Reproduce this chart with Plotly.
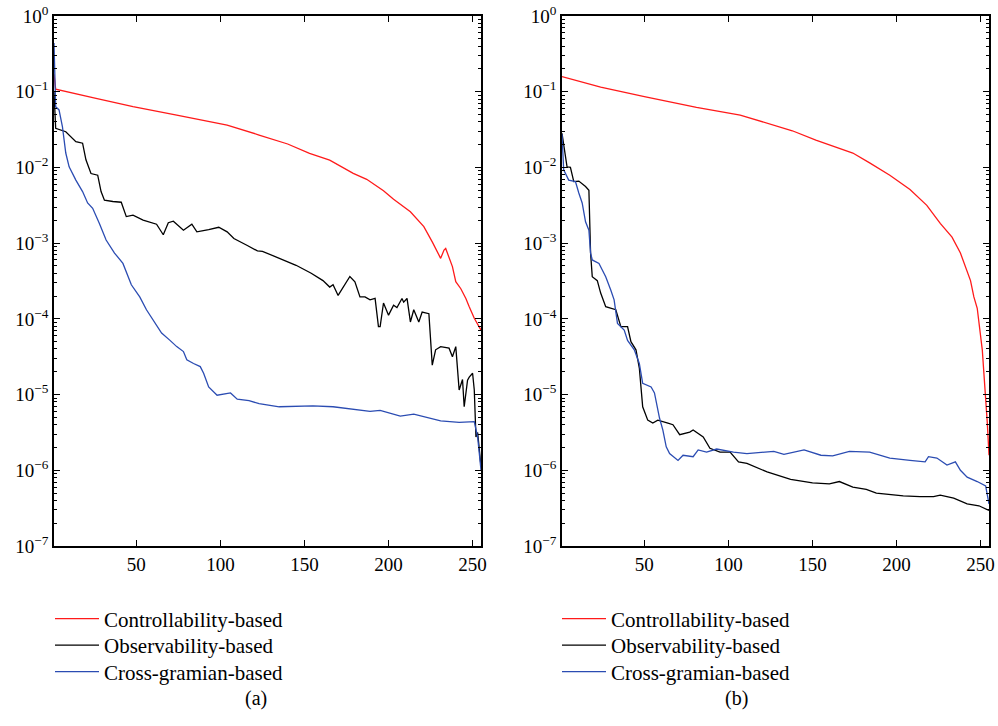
import plotly.graph_objects as go

# ---------------- data ----------------
SERIES_NAMES = ["Controllability-based", "Observability-based", "Cross-gramian-based"]

# panel (a)
A_ctrl_x = [1, 2, 26, 48, 74, 104, 123, 131, 140, 153, 165, 179, 187, 197, 203, 213, 221, 226, 231, 233, 234, 238, 240, 243, 246, 248, 251, 255]
A_ctrl_y = [0.17, 0.108, 0.0818, 0.0634, 0.0492, 0.0363, 0.0268, 0.0235, 0.0204, 0.0153, 0.0125, 8.36e-3, 6.97e-3, 4.92e-3, 3.79e-3, 2.60e-3, 1.65e-3, 1.04e-3, 6.3e-4, 8.1e-4, 8.5e-4, 4.9e-4, 3.1e-4, 2.5e-4, 1.86e-4, 1.45e-4, 1.02e-4, 7.1e-5]

A_obs_x = [1, 2, 8, 14, 18, 20, 23, 27, 29, 31, 36, 41, 44, 48, 54, 62, 66, 69, 72, 78, 83, 86, 93, 99, 104, 108, 116, 122, 125, 137, 145, 154, 161, 165, 167, 170, 173, 177, 180, 183, 186, 189, 192, 194, 195, 197, 200, 203, 205, 208, 209, 211, 213, 215, 218, 220, 224, 225, 226, 228, 231, 236, 238, 240, 242, 244, 245, 247, 248, 250, 251, 252, 253, 255]
A_obs_y = [0.1, 0.0328, 0.0296, 0.0219, 0.0209, 0.0126, 8.3e-3, 7.9e-3, 4.8e-3, 3.7e-3, 3.55e-3, 3.47e-3, 2.24e-3, 2.34e-3, 2.02e-3, 1.78e-3, 1.29e-3, 1.86e-3, 1.95e-3, 1.48e-3, 1.78e-3, 1.41e-3, 1.51e-3, 1.62e-3, 1.41e-3, 1.15e-3, 9.3e-4, 7.9e-4, 7.8e-4, 6.0e-4, 5.1e-4, 4.0e-4, 3.2e-4, 2.63e-4, 2.82e-4, 2.04e-4, 2.63e-4, 3.63e-4, 3.09e-4, 1.95e-4, 1.95e-4, 1.78e-4, 1.86e-4, 7.9e-5, 7.9e-5, 1.62e-4, 1.12e-4, 1.51e-4, 1.41e-4, 1.86e-4, 1.66e-4, 1.86e-4, 9.1e-5, 1.32e-4, 9.1e-5, 1.23e-4, 1.17e-4, 4.5e-5, 2.45e-5, 3.9e-5, 4.3e-5, 4.1e-5, 3.16e-5, 4.3e-5, 1.15e-5, 1.58e-5, 6.9e-6, 1.55e-5, 1.70e-5, 1.91e-5, 1.15e-5, 2.75e-6, 3.16e-6, 1.12e-6]

A_cross_x = [1, 2, 4, 6, 8, 10, 14, 18, 21, 24, 28, 32, 37, 42, 47, 52, 56, 61, 65, 70, 74, 78, 80, 84, 88, 90, 93, 98, 106, 110, 117, 123, 135, 155, 167, 189, 195, 207, 215, 231, 242, 251, 253, 255]
A_cross_y = [0.44, 0.0634, 0.0575, 0.0347, 0.0155, 0.0102, 6.8e-3, 4.8e-3, 3.39e-3, 2.88e-3, 1.82e-3, 1.10e-3, 7.4e-4, 5.4e-4, 2.82e-4, 1.95e-4, 1.32e-4, 9.1e-5, 6.5e-5, 5.2e-5, 4.3e-5, 3.7e-5, 2.88e-5, 2.57e-5, 2.34e-5, 1.91e-5, 1.26e-5, 9.8e-6, 1.05e-5, 8.7e-6, 8.3e-6, 7.6e-6, 6.9e-6, 7.1e-6, 6.9e-6, 6.0e-6, 6.2e-6, 5.2e-6, 5.5e-6, 4.5e-6, 4.3e-6, 4.4e-6, 2.75e-6, 1.0e-6]

# panel (b)
B_ctrl_x = [1, 24, 50, 81, 107, 127, 138, 152, 164, 174, 184, 196, 208, 218, 226, 233, 238, 244, 246, 248, 251, 253, 254, 255]
B_ctrl_y = [0.158, 0.115, 0.0859, 0.0622, 0.0492, 0.0363, 0.0305, 0.0230, 0.0186, 0.0155, 0.0115, 7.9e-3, 5.1e-3, 3.16e-3, 1.82e-3, 1.20e-3, 7.4e-4, 3.2e-4, 1.95e-4, 1.38e-4, 3.9e-5, 1.05e-5, 4.2e-6, 1.58e-6]

B_obs_x = [1, 3, 4, 6, 8, 11, 15, 17, 18, 19, 22, 24, 27, 33, 36, 40, 42, 45, 47, 49, 52, 55, 58, 64, 67, 71, 77, 79, 85, 89, 95, 101, 106, 111, 115, 123, 137, 150, 160, 166, 174, 182, 188, 196, 204, 214, 222, 226, 234, 242, 249, 255]
B_obs_y = [0.0282, 0.0155, 0.0102, 0.0100, 6.5e-3, 6.6e-3, 5.6e-3, 5.0e-3, 7.4e-4, 3.6e-4, 3.2e-4, 2.19e-4, 1.45e-4, 1.32e-4, 7.9e-5, 7.9e-5, 5.0e-5, 3.9e-5, 2.24e-5, 6.9e-6, 4.6e-6, 4.2e-6, 4.6e-6, 4.2e-6, 4.0e-6, 2.95e-6, 3.2e-6, 3.4e-6, 2.75e-6, 1.95e-6, 1.74e-6, 1.74e-6, 1.29e-6, 1.23e-6, 1.12e-6, 9.5e-7, 7.6e-7, 6.8e-7, 6.6e-7, 7.1e-7, 6.0e-7, 5.6e-7, 5.0e-7, 4.8e-7, 4.6e-7, 4.5e-7, 4.5e-7, 4.7e-7, 4.3e-7, 3.6e-7, 3.4e-7, 2.95e-7]

B_cross_x = [1, 2, 5, 9, 11, 13, 15, 17, 18, 19, 23, 27, 30, 32, 34, 38, 40, 44, 47, 49, 54, 56, 59, 61, 63, 65, 70, 73, 79, 82, 87, 93, 103, 111, 127, 133, 145, 155, 162, 172, 184, 196, 208, 217, 219, 224, 230, 235, 238, 242, 248, 253, 255]
B_cross_y = [0.0275, 9.3e-3, 6.8e-3, 6.5e-3, 4.6e-3, 3.39e-3, 1.91e-3, 1.48e-3, 7.4e-4, 6.0e-4, 5.4e-4, 3.6e-4, 2.4e-4, 1.78e-4, 8.7e-5, 7.1e-5, 5.2e-5, 3.9e-5, 2.57e-5, 1.41e-5, 1.26e-5, 1.05e-5, 4.9e-6, 3.4e-6, 2.04e-6, 1.66e-6, 1.35e-6, 1.58e-6, 1.51e-6, 1.86e-6, 1.74e-6, 1.91e-6, 1.74e-6, 1.66e-6, 1.78e-6, 1.62e-6, 1.86e-6, 1.58e-6, 1.55e-6, 1.78e-6, 1.74e-6, 1.45e-6, 1.35e-6, 1.29e-6, 1.51e-6, 1.45e-6, 1.17e-6, 1.29e-6, 1.0e-6, 8.1e-7, 7.1e-7, 6.2e-7, 3.6e-7]

X_TICKS = [50, 100, 150, 200, 250]
Y_TICKS = [1e-7, 1e-6, 1e-5, 1e-4, 1e-3, 1e-2, 1e-1, 1]
Y_TICK_LABELS = ["10<sup>−7</sup>", "10<sup>−6</sup>", "10<sup>−5</sup>", "10<sup>−4</sup>",
                 "10<sup>−3</sup>", "10<sup>−2</sup>", "10<sup>−1</sup>", "10<sup>0</sup>"]
CAPTIONS = ["(a)", "(b)"]

# ---------------- style / layout ----------------
FONT = "Liberation Serif"
COLORS = ["#ff1a1a", "#000000", "#2b4cb2"]
W, H = 998, 726

minor_vals = [m * 10.0 ** e for e in range(-7, 0) for m in range(2, 10)]

fig = go.Figure()

LEGEND_ROWS = [619, 645.5, 672]          # pixel rows of the legend entries
LEGEND_X = [50, 557]                     # pixel x of each panel's legend

panels = [
    ("x", "y", 0, [(A_ctrl_x, A_ctrl_y), (A_obs_x, A_obs_y), (A_cross_x, A_cross_y)]),
    ("x2", "y2", 1, [(B_ctrl_x, B_ctrl_y), (B_obs_x, B_obs_y), (B_cross_x, B_cross_y)]),
]
legend_layout = {}
for xa, ya, p, series in panels:
    for k, (name, (xs, ys), col) in enumerate(zip(SERIES_NAMES, series, COLORS)):
        n = p * 3 + k + 1
        lid = "legend" if n == 1 else f"legend{n}"
        fig.add_trace(go.Scatter(x=xs, y=ys, mode="lines", name=name,
                                 line=dict(color=col, width=1.3),
                                 xaxis=xa, yaxis=ya, legend=lid))
        legend_layout[lid] = dict(
            x=LEGEND_X[p] / W, y=1 - LEGEND_ROWS[k] / H,
            xanchor="left", yanchor="middle",
            font=dict(family=FONT, size=21, color="black"),
            bgcolor="rgba(0,0,0,0)", borderwidth=0, itemwidth=44,
        )


def xaxis(domain, anchor):
    return dict(domain=domain, anchor=anchor, range=[1, 255], automargin=False,
                tickvals=X_TICKS, ticktext=[str(v) for v in X_TICKS],
                ticks="inside", ticklen=6, tickwidth=1.2, tickcolor="black",
                showline=True, linecolor="black", linewidth=1.5, mirror="allticks",
                showgrid=False, zeroline=False,
                tickfont=dict(family=FONT, size=19, color="black"))


def yaxis(domain, anchor):
    return dict(domain=domain, anchor=anchor, type="log", range=[-7, 0], automargin=False,
                tickvals=Y_TICKS, ticktext=Y_TICK_LABELS,
                ticks="inside", ticklen=6, tickwidth=1.2, tickcolor="black",
                minor=dict(tickvals=minor_vals, ticks="inside", ticklen=3,
                           tickwidth=1, tickcolor="black", showgrid=False),
                showline=True, linecolor="black", linewidth=1.5, mirror="allticks",
                showgrid=False, zeroline=False,
                tickfont=dict(family=FONT, size=19, color="black"))


ydom = [1 - 546 / H, 1 - 16 / H]

fig.update_layout(
    width=W, height=H,
    margin=dict(l=0, r=0, t=0, b=0, autoexpand=False),
    paper_bgcolor="white", plot_bgcolor="white",
    xaxis=xaxis([54 / W, 481 / W], "y"),
    yaxis=yaxis(ydom, "x"),
    xaxis2=xaxis([562 / W, 989 / W], "y2"),
    yaxis2=yaxis(ydom, "x2"),
    showlegend=True,
    annotations=[
        dict(text=CAPTIONS[0], x=243 / W, y=1 - 712 / H, xref="paper", yref="paper",
             showarrow=False, font=dict(family=FONT, size=20, color="black")),
        dict(text=CAPTIONS[1], x=750 / W, y=1 - 712 / H, xref="paper", yref="paper",
             showarrow=False, font=dict(family=FONT, size=20, color="black")),
    ],
    **legend_layout,
)

fig.write_html("out.html",
               config={"displayModeBar": False},
               post_script="document.body.style.margin='0';document.body.style.overflow='hidden';")
